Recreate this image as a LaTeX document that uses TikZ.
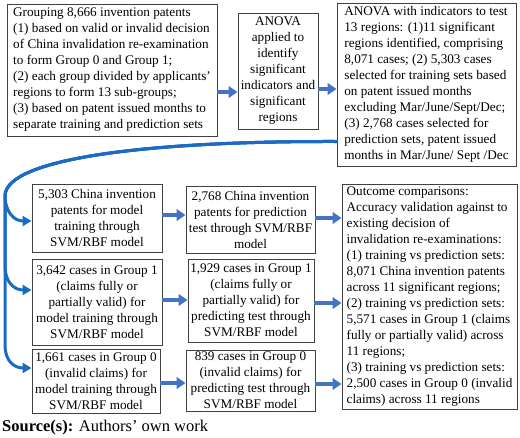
\documentclass[tikz,border=0pt]{standalone}
\usepackage{fontspec}
\setmainfont{Liberation Serif}
\usetikzlibrary{arrows.meta}
\definecolor{boxline}{HTML}{404040}
\definecolor{arrblue}{HTML}{4472C4}
\definecolor{curveblue}{HTML}{1A6BC4}
\tikzset{
  box/.style={draw=boxline, line width=0.9pt, inner xsep=1pt, inner ysep=0pt,
    font=\fontsize{13.2}{16}\selectfont},
  lbox/.style={box, align=left},
  cbox/.style={box, align=center},
  blkarrow/.style={draw=arrblue, line width=3.3pt, -{Triangle[length=9pt,width=11.5pt]}},
  curvearrow/.style={draw=curveblue, line width=3pt, line cap=round, -{Triangle[length=9pt,width=10pt]}},
}
\begin{document}
\begin{tikzpicture}[x=1pt,y=-1pt]
\useasboundingbox (0,0) rectangle (520,437);

\node[lbox, minimum width=210pt, minimum height=132pt] (A) at (112,70)
{Grouping 8,666 invention patents\\
(1) based on valid or invalid decision\\
of China invalidation re-examination\\
to form Group 0 and Group 1;\\
(2) each group divided by applicants’\\
regions to form 13 sub-groups;\\
(3) based on patent issued months to\\
separate training and prediction sets};

\node[cbox, minimum width=80pt, minimum height=116pt] (B) at (278,71)
{ANOVA\\ applied to\\ identify\\ significant\\ indicators and\\ significant\\ regions};

\node[lbox, minimum width=179pt, minimum height=163pt] (C) at (426.5,84.5)
{ANOVA with indicators to test\\
13 regions: (1)11 significant\\
regions identified, comprising\\
8,071 cases; (2) 5,303 cases\\
selected for training sets based\\
on patent issued months\\
excluding Mar/June/Sept/Dec;\\
(3) 2,768 cases selected for\\
prediction sets, patent issued\\
months in Mar/June/ Sept /Dec};

\node[cbox, minimum width=130pt, minimum height=68pt] (D) at (97,218)
{5,303 China invention\\ patents for model\\ training through\\ SVM/RBF model};

\node[cbox, minimum width=129pt, minimum height=67pt] (E) at (250.5,219.5)
{2,768 China invention\\ patents for prediction\\ test through SVM/RBF\\ model};

\node[lbox, minimum width=175pt, minimum height=225pt] (F) at (429.5,296.5)
{Outcome comparisons:\\
Accuracy validation against to\\
existing decision of\\
invalidation re-examinations:\\
(1) training vs prediction sets:\\
8,071 China invention patents\\
across 11 significant regions;\\
(2) training vs prediction sets:\\
5,571 cases in Group 1 (claims\\
fully or partially valid) across\\
11 regions;\\
(3) training vs prediction sets:\\
2,500 cases in Group 0 (invalid\\
claims) across 11 regions};

\node[cbox, minimum width=130pt, minimum height=86pt] (D2) at (97,302)
{3,642 cases in Group 1\\ (claims fully or\\ partially valid) for\\ model training through\\ SVM/RBF model};

\node[cbox, minimum width=126pt, minimum height=83pt] (E2) at (251,300.5)
{1,929 cases in Group 1\\ (claims fully or\\ partially valid) for\\ predicting test through\\ SVM/RBF model};

\node[cbox, minimum width=128pt, minimum height=64pt] (D3) at (96,381)
{1,661 cases in Group 0\\ (invalid claims) for\\ model training through\\ SVM/RBF model};

\node[cbox, minimum width=129pt, minimum height=61pt] (E3) at (250.5,380.5)
{839 cases in Group 0\\ (invalid claims) for\\ predicting test through\\ SVM/RBF model};

\node[anchor=base west, inner sep=0pt, font=\fontsize{16.5}{18}\selectfont] (src) at (2,431)
{\textbf{Source(s):} Authors’ own work};

% straight block arrows
\draw[blkarrow] ([yshift=-22pt]A.east) -- ([yshift=-21pt]B.west);
\draw[blkarrow] ([yshift=-18pt]B.east) -- ([yshift=-4.5pt]C.west);
\draw[blkarrow] ([yshift=3pt]D.east) -- ([yshift=4.5pt]E.west);
\draw[blkarrow] ([yshift=1.5pt]E.east) -- ([yshift=78.5pt]F.west);
\draw[blkarrow] ([yshift=2pt]D2.east) -- ([yshift=0.5pt]E2.west);
\draw[blkarrow] ([yshift=-2.5pt]E2.east) -- ([yshift=-6.5pt]F.west);
\draw[blkarrow] ([yshift=-2pt]D3.east) -- ([yshift=-2.5pt]E3.west);
\draw[blkarrow] ([yshift=-3.5pt]E3.east) -- ([yshift=-87.5pt]F.west);

% curved connector from C to the three training boxes
\coordinate (cstart) at ([yshift=-57pt]C.west);
\draw[curvearrow] (cstart) .. controls (150,141) and (8,158) .. (5,195)
  .. controls (5,212) and (14,221) .. ([yshift=-3pt]D.west);
\draw[curvearrow] (cstart) .. controls (150,141) and (8,158) .. (5,195)
  -- (5,266) .. controls (5,282) and (14,290) .. ([yshift=12pt]D2.west);
\draw[curvearrow] (cstart) .. controls (150,141) and (8,158) .. (5,195)
  -- (5,345) .. controls (5,361) and (14,368) .. ([yshift=13pt]D3.west);
\end{tikzpicture}
\end{document}
